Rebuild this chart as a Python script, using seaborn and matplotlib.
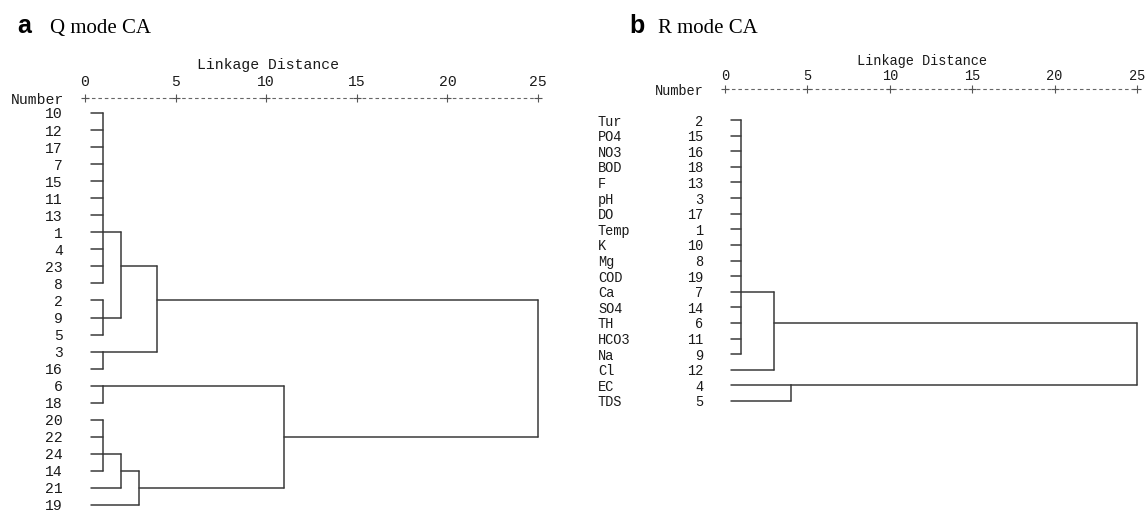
import numpy as np
import pandas as pd
import matplotlib
matplotlib.use("Agg")
import matplotlib.pyplot as plt
import matplotlib.transforms as mtransforms
import seaborn as sns

# ---------------- data ----------------
# Q mode CA (samples)
q_leaves = ["10", "12", "17", "7", "15", "11", "13", "1", "4", "23", "8",
            "2", "9", "5", "3", "16", "6", "18", "20", "22", "24", "14", "21", "19"]
q_merge_names = ["A1", "A2", "A", "B", "AB", "C", "D1", "D2", "D3", "CD", "ALL"]
q_merge_children = [
    ["10", "12", "17", "7", "15", "11", "13", "1", "4", "23", "8"],
    ["2", "9", "5"],
    ["A1", "A2"],
    ["3", "16"],
    ["A", "B"],
    ["6", "18"],
    ["20", "22", "24", "14"],
    ["D1", "21"],
    ["D2", "19"],
    ["C", "D3"],
    ["AB", "CD"],
]
q_merge_dist = [1.0, 1.0, 2.0, 1.0, 4.0, 1.0, 1.0, 2.0, 3.0, 11.0, 25.0]
q_merge_anchor = ["1", "9", None, "3", None, "6", "24", None, None, None, None]

# R mode CA (variables)
r_names = ["Tur", "PO4", "NO3", "BOD", "F", "pH", "DO", "Temp", "K", "Mg",
           "COD", "Ca", "SO4", "TH", "HCO3", "Na", "Cl", "EC", "TDS"]
r_leaves = ["2", "15", "16", "18", "13", "3", "17", "1", "10", "8",
            "19", "7", "14", "6", "11", "9", "12", "4", "5"]
r_merge_names = ["R1", "R2", "R3", "ALL"]
r_merge_children = [
    ["2", "15", "16", "18", "13", "3", "17", "1", "10", "8", "19", "7", "14", "6", "11", "9"],
    ["R1", "12"],
    ["4", "5"],
    ["R2", "R3"],
]
r_merge_dist = [1.0, 3.0, 4.0, 25.0]
r_merge_anchor = ["7", None, "4", None]

axis_ticks = [0, 5, 10, 15, 20, 25]
LEAF_START = 0.35


def build_segments(leaves, names, children, dists, anchors):
    row = {lf: i for i, lf in enumerate(leaves)}
    pos = {lf: (LEAF_START, i) for i, lf in enumerate(leaves)}
    recs = []
    sid = 0
    for name, ch, d, anc in zip(names, children, dists, anchors):
        rows = []
        for c in ch:
            x0, r = pos[c]
            recs += [(sid, x0, r), (sid, d, r)]
            sid += 1
            rows.append(r)
        recs += [(sid, d, min(rows)), (sid, d, max(rows))]
        sid += 1
        a = row[anc] if anc is not None else (min(rows) + max(rows)) // 2
        pos[name] = (d, a)
    return pd.DataFrame(recs, columns=["seg", "dist", "row"])


sns.set_theme(style="white")
MONO = "Liberation Mono"
LINE_C = "#3a3a3a"
TXT_C = "#1a1a1a"

W, H = 1146, 514
fig = plt.figure(figsize=(W / 100, H / 100), dpi=100)


def make_panel(x0px, x25px, row0px, rowNpx, leaves, names, children, dists,
               anchors, fs, header_px, ticklab_px, ld_xpx, ld_px):
    n = len(leaves)
    ax = fig.add_axes([x0px / W, 1 - rowNpx / H, (x25px - x0px) / W, (rowNpx - row0px) / H])
    df = build_segments(leaves, names, children, dists, anchors)
    sns.lineplot(data=df, x="dist", y="row", units="seg", estimator=None, sort=False,
                 color=LINE_C, lw=1.1, ax=ax, legend=False)
    for ln in ax.lines:
        ln.set_clip_on(False)
    ax.set_xlim(0, 25)
    ax.set_ylim(n - 1, 0)
    ax.set_xlabel("")
    ax.set_ylabel("")
    ax.set_xticks([])
    ax.set_yticks(range(n))
    ax.set_yticklabels(leaves, fontfamily=MONO, fontsize=fs, color=TXT_C)
    ax.tick_params(axis="y", length=0, pad=22 * 0.72)
    for s in ax.spines.values():
        s.set_visible(False)
    ax.patch.set_alpha(0)

    tr = mtransforms.blended_transform_factory(ax.transData, fig.transFigure)
    yh = 1 - header_px / H
    ax.plot([0, 25], [yh, yh], transform=tr, color="#666666", lw=0.8,
            ls=(0, (3.2, 2.6)), clip_on=False)
    ax.plot(axis_ticks, [yh] * len(axis_ticks), transform=tr, ls="none", marker="+",
            ms=5.5, mew=0.8, color="#555555", clip_on=False)
    for t in axis_ticks:
        ax.text(t, 1 - ticklab_px / H, str(t), transform=tr, ha="center",
                va="center_baseline", fontfamily=MONO, fontsize=fs, color=TXT_C)
    fig.text(ld_xpx / W, 1 - ld_px / H, "Linkage Distance", ha="left",
             va="center_baseline", fontfamily=MONO, fontsize=fs, color=TXT_C)
    fig.text((x0px - 21) / W, yh, "Number", ha="right", va="center_baseline",
             fontfamily=MONO, fontsize=fs, color=TXT_C)
    return ax


axL = make_panel(85, 538, 113, 505, q_leaves, q_merge_names, q_merge_children,
                 q_merge_dist, q_merge_anchor, 10.6, 98.3, 81, 197, 63.5)
axR = make_panel(725, 1137, 120, 401, r_leaves, r_merge_names, r_merge_children,
                 r_merge_dist, r_merge_anchor, 9.8, 89.3, 74.5, 857, 60)

# variable names for R mode
trR = mtransforms.blended_transform_factory(fig.transFigure, axR.transData)
for i, nm in enumerate(r_names):
    axR.text(598 / W, i, nm, transform=trR, ha="left", va="center_baseline",
             fontfamily=MONO, fontsize=9.8, color=TXT_C, clip_on=False)

# panel titles
base = 1 - 33 / H
fig.text(17 / W, base, "a", fontfamily="Liberation Sans", fontweight="bold",
         fontsize=18, va="baseline", ha="left", color="black")
fig.text(50 / W, base, "Q mode CA", fontfamily="Liberation Serif",
         fontsize=15, va="baseline", ha="left", color="black")
fig.text(629 / W, base, "b", fontfamily="Liberation Sans", fontweight="bold",
         fontsize=18, va="baseline", ha="left", color="black")
fig.text(658 / W, base, "R mode CA", fontfamily="Liberation Serif",
         fontsize=15, va="baseline", ha="left", color="black")

fig.savefig("out.png", dpi=100, facecolor="white")
